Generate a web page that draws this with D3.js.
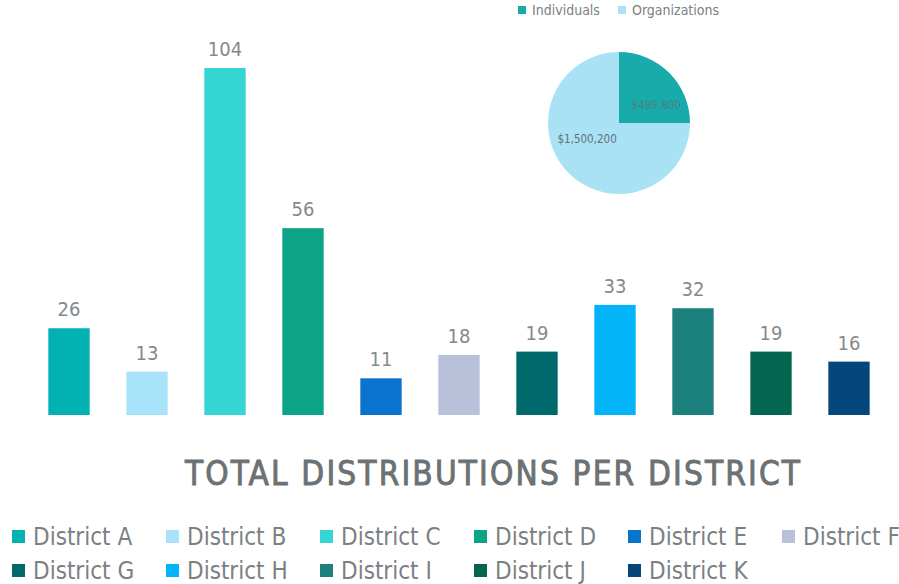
<!DOCTYPE html>
<html>
<head>
<meta charset="utf-8">
<script src="https://cdn.jsdelivr.net/npm/d3@7"></script>
<style>
  body { margin: 0; background: #fff; }
  svg { display: block; }
  text { font-family: "Liberation Sans Narrow", "DejaVu Sans Condensed", Roboto, sans-serif; }
</style>
</head>
<body>
<svg id="chart" width="899" height="584"></svg>
<script>
// bar data
var districts = ["District A", "District B", "District C", "District D", "District E", "District F",
                 "District G", "District H", "District I", "District J", "District K"];
var counts = [26, 13, 104, 56, 11, 18, 19, 33, 32, 19, 16];
var districtColors = ["#02b1b1", "#a8e3fa", "#35d5d3", "#0ba486", "#0a73cd", "#b9c0da",
                      "#00696b", "#03b5f8", "#1c807c", "#05664f", "#05467b"];

// pie data
var donorTypes = ["Individuals", "Organizations"];
var donorAmounts = [499800, 1500200];
var donorColors = ["#18abab", "#aae2f5"];

var title = "TOTAL DISTRIBUTIONS PER DISTRICT";

var svg = d3.select("#chart");
var grey = "#7b8083";

// bars
var x = d3.scaleBand()
	.domain(districts)
	.range([30, 888])
	.paddingInner(0.47)
	.paddingOuter(0.235);

var y = d3.scaleLinear()
	.domain([0, 104])
	.range([415, 68]);

var bars = svg.append("g").attr("class", "bars");

bars.selectAll("rect")
	.data(districts)
	.enter().append("rect")
	.attr("x", function(d) { return x(d); })
	.attr("y", function(d, i) { return y(counts[i]); })
	.attr("width", x.bandwidth())
	.attr("height", function(d, i) { return y(0) - y(counts[i]); })
	.attr("fill", function(d, i) { return districtColors[i]; });

bars.selectAll("text")
	.data(districts)
	.enter().append("text")
	.attr("x", function(d) { return x(d) + x.bandwidth() / 2; })
	.attr("y", function(d, i) { return y(counts[i]) - 12; })
	.attr("text-anchor", "middle")
	.attr("font-size", 20)
	.attr("fill", "#85898c")
	.text(function(d, i) { return counts[i]; });

// title (regular face, thin stroke for a medium weight)
svg.append("text")
	.attr("x", 185)
	.attr("y", 485)
	.attr("textLength", 615)
	.attr("lengthAdjust", "spacing")
	.attr("font-size", 33)
	.attr("fill", "#6c7174")
	.attr("stroke", "#6c7174")
	.attr("stroke-width", 0.9)
	.text(title);

// district legend
var legend = svg.append("g").attr("class", "legend");

var item = legend.selectAll("g")
	.data(districts)
	.enter().append("g")
	.attr("transform", function(d, i)
	{
		var col = i % 6;
		var row = Math.floor(i / 6);
		return "translate(" + (12 + col * 154) + "," + (537 + row * 34) + ")";
	});

item.append("rect")
	.attr("x", 0)
	.attr("y", -7)
	.attr("width", 13)
	.attr("height", 13)
	.attr("fill", function(d, i) { return districtColors[i]; });

item.append("text")
	.attr("x", 21)
	.attr("y", 8)
	.attr("font-size", 24)
	.attr("fill", grey)
	.text(function(d) { return d; });

// pie
var pie = d3.pie().sort(null).value(function(d) { return d; });
var arcs = pie(donorAmounts);
var radius = 71;
var arc = d3.arc().innerRadius(0).outerRadius(radius);

var pieG = svg.append("g").attr("transform", "translate(619,123)");

pieG.selectAll("path")
	.data(arcs)
	.enter().append("path")
	.attr("d", arc)
	.attr("fill", function(d, i) { return donorColors[i]; });

// where along each slice its label sits
var labelFrac = [0.72, 0.57];
var labelRad = [0.58, 0.5];
var fmt = d3.format("$,");

pieG.selectAll("text")
	.data(arcs)
	.enter().append("text")
	.attr("transform", function(d, i)
	{
		var a = d.startAngle + (d.endAngle - d.startAngle) * labelFrac[i];
		var r = radius * labelRad[i];
		return "translate(" + (Math.sin(a) * r) + "," + (-Math.cos(a) * r) + ")";
	})
	.attr("text-anchor", "middle")
	.attr("dy", "0.35em")
	.attr("font-size", 11.5)
	.attr("fill", function(d, i) { return i == 0 ? "#4d7f80" : "#5f7178"; })
	.text(function(d) { return fmt(d.data); });

// pie legend
var pieLegend = svg.append("g").attr("class", "pie-legend");
var legendX = [518, 618];

var pItem = pieLegend.selectAll("g")
	.data(donorTypes)
	.enter().append("g")
	.attr("transform", function(d, i) { return "translate(" + legendX[i] + ",10)"; });

pItem.append("rect")
	.attr("x", 0)
	.attr("y", -4)
	.attr("width", 8)
	.attr("height", 8)
	.attr("fill", function(d, i) { return donorColors[i]; });

pItem.append("text")
	.attr("x", 14)
	.attr("y", 5)
	.attr("font-size", 14)
	.attr("fill", grey)
	.text(function(d) { return d; });
</script>
</body>
</html>
